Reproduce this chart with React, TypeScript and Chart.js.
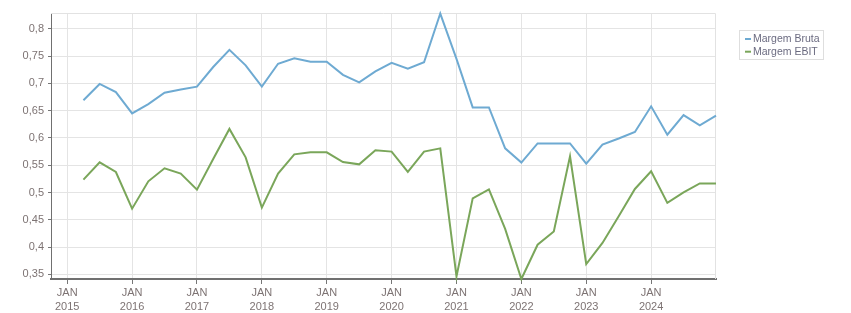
import React, { useEffect, useRef } from 'react';
import { Chart, registerables } from 'chart.js';

Chart.register(...registerables);

// Quarter-end dates (YYYY-MM)
const quarters: string[] = [
  '2015-03', '2015-06', '2015-09', '2015-12',
  '2016-03', '2016-06', '2016-09', '2016-12',
  '2017-03', '2017-06', '2017-09', '2017-12',
  '2018-03', '2018-06', '2018-09', '2018-12',
  '2019-03', '2019-06', '2019-09', '2019-12',
  '2020-03', '2020-06', '2020-09', '2020-12',
  '2021-03', '2021-06', '2021-09', '2021-12',
  '2022-03', '2022-06', '2022-09', '2022-12',
  '2023-03', '2023-06', '2023-09', '2023-12',
  '2024-03', '2024-06', '2024-09', '2024-12',
];

const margemBruta: number[] = [
  0.669, 0.699, 0.684, 0.645,
  0.662, 0.683, 0.689, 0.694,
  0.730, 0.7615, 0.733, 0.694,
  0.736, 0.746, 0.7395, 0.7395,
  0.7156, 0.702, 0.722, 0.7376,
  0.727, 0.7388, 0.828, 0.745,
  0.656, 0.656, 0.581, 0.555,
  0.590, 0.590, 0.590, 0.553,
  0.588, 0.599, 0.611, 0.658,
  0.606, 0.642, 0.623, 0.641,
];

const margemEbit: number[] = [
  0.5236, 0.5554, 0.5377, 0.4705,
  0.5206, 0.5444, 0.5347, 0.5053,
  0.5616, 0.6166, 0.5645, 0.4723,
  0.5347, 0.570, 0.5737, 0.5737,
  0.556, 0.5517, 0.5774, 0.575,
  0.538, 0.575, 0.581, 0.3463,
  0.4894, 0.5059, 0.4333, 0.3416,
  0.4044, 0.4288, 0.5664, 0.369,
  0.4076, 0.4564, 0.5066, 0.5389,
  0.481, 0.5003, 0.5168, 0.5168,
];

const seriesNames: string[] = ['Margem Bruta', 'Margem EBIT'];
const yearTicks: number[] = [2015, 2016, 2017, 2018, 2019, 2020, 2021, 2022, 2023, 2024];
const yTicks: number[] = [0.35, 0.4, 0.45, 0.5, 0.55, 0.6, 0.65, 0.7, 0.75, 0.8];

const COLORS = ['#6eaad2', '#7aa65a'];
const TEXT = '#7d7373';
const FONT = "'Liberation Sans', Arial, sans-serif";

const toX = (q: string) => {
  const [y, m] = q.split('-').map(Number);
  return y + m / 12;
};

export default function App() {
  const ref = useRef<HTMLCanvasElement | null>(null);

  useEffect(() => {
    if (!ref.current) return;
    const all = [...margemBruta, ...margemEbit];
    const legendPlugin = {
      id: 'customLegend',
      afterDraw(chart: any) {
        const ctx = chart.ctx;
        ctx.save();
        ctx.strokeStyle = '#dedede';
        ctx.lineWidth = 1;
        ctx.strokeRect(739.5, 30.5, 84, 29);
        ctx.font = `10.5px ${FONT}`;
        ctx.textBaseline = 'middle';
        ctx.textAlign = 'left';
        seriesNames.forEach((name, i) => {
          const y = 39 + i * 12.7;
          ctx.strokeStyle = COLORS[i];
          ctx.lineWidth = 2;
          ctx.beginPath();
          ctx.moveTo(745, y);
          ctx.lineTo(751, y);
          ctx.stroke();
          ctx.fillStyle = '#6b6b80';
          ctx.fillText(name, 753, y + 0.5);
        });
        ctx.restore();
      },
    };
    const framePlugin = {
      id: 'frame',
      beforeDatasetsDraw(chart: any) {
        const { ctx, chartArea: a } = chart;
        ctx.save();
        ctx.strokeStyle = '#e2e2e2';
        ctx.lineWidth = 1;
        ctx.beginPath();
        ctx.moveTo(a.left, a.top + 0.5);
        ctx.lineTo(a.right - 0.5, a.top + 0.5);
        ctx.lineTo(a.right - 0.5, a.bottom);
        ctx.stroke();
        ctx.restore();
      },
    };

    const chart = new Chart(ref.current, {
      type: 'line',
      data: {
        datasets: [
          {
            label: seriesNames[0],
            data: quarters.map((q, i) => ({ x: toX(q), y: margemBruta[i] })),
            borderColor: COLORS[0],
            backgroundColor: COLORS[0],
            borderWidth: 2,
            pointRadius: 0,
            tension: 0,
            clip: false,
          },
          {
            label: seriesNames[1],
            data: quarters.map((q, i) => ({ x: toX(q), y: margemEbit[i] })),
            borderColor: COLORS[1],
            backgroundColor: COLORS[1],
            borderWidth: 2,
            pointRadius: 0,
            tension: 0,
            clip: false,
          },
        ],
      },
      options: {
        animation: false,
        responsive: false,
        maintainAspectRatio: false,
        layout: { padding: { left: 0, top: 13, right: 135, bottom: 0 } },
        plugins: {
          legend: { display: false },
          tooltip: { enabled: false },
        },
        scales: {
          x: {
            type: 'linear',
            min: 2014.75,
            max: 2025.0,
            afterFit: (s: any) => { s.height = 34; },
            afterBuildTicks: (s: any) => { s.ticks = yearTicks.map((v) => ({ value: v })); },
            grid: { color: '#e4e4e4', tickColor: '#777777', tickLength: 5, lineWidth: 1 },
            border: { color: '#707070', width: 2 },
            ticks: {
              autoSkip: false,
              maxRotation: 0,
              padding: 2,
              color: TEXT,
              font: { family: FONT, size: 11, lineHeight: 1.27 },
              callback: (v: any) => ['JAN', String(v)],
            },
          },
          y: {
            type: 'linear',
            min: Math.min(...all),
            max: Math.max(...all) + 0.001,
            afterFit: (s: any) => { s.width = 51; },
            afterBuildTicks: (s: any) => { s.ticks = yTicks.map((v) => ({ value: v })); },
            grid: { color: '#e4e4e4', tickColor: '#777777', tickLength: 3, lineWidth: 1 },
            border: { color: '#707070', width: 1 },
            ticks: {
              padding: 4,
              color: TEXT,
              font: { family: FONT, size: 11 },
              callback: (v: any) => String(Math.round(Number(v) * 100) / 100).replace('.', ','),
            },
          },
        },
      },
      plugins: [framePlugin, legendPlugin],
    });
    return () => chart.destroy();
  }, []);

  return (
    <div style={{ position: 'absolute', left: 0, top: 0, width: 851, height: 313, background: '#fff' }}>
      <canvas ref={ref} width={851} height={313} style={{ width: 851, height: 313, display: 'block' }} />
    </div>
  );
}
